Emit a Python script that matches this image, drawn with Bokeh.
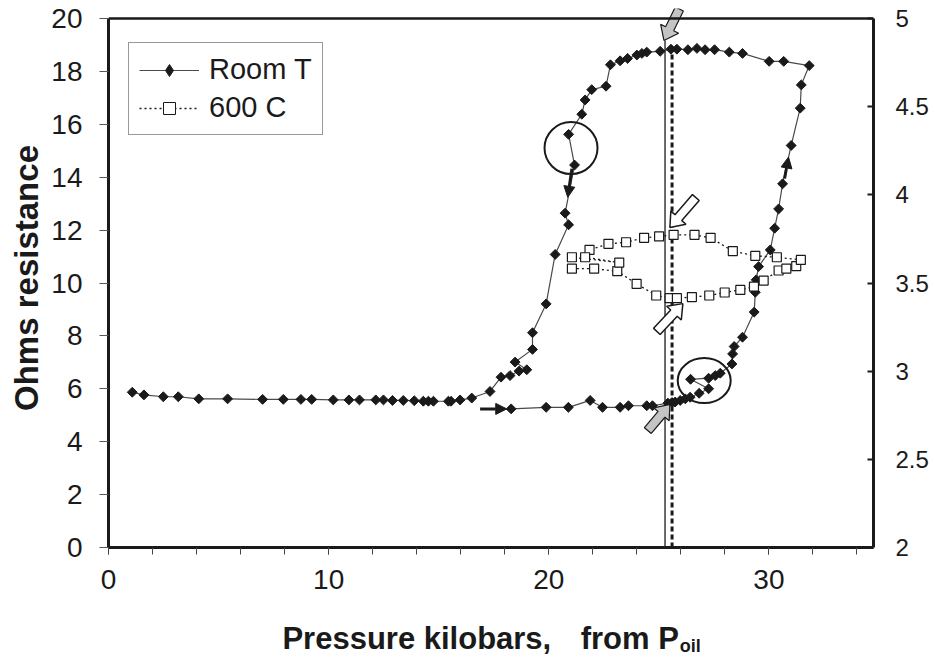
import numpy as np
from bokeh.plotting import figure
from bokeh.layouts import column
from bokeh.models import (Range1d, LinearAxis, FixedTicker, Legend, LegendItem, Span,
                          Arrow, NormalHead, ColumnDataSource)
from bokeh.core.properties import value
from bokeh.embed import file_html
from bokeh.resources import INLINE

# ---------------- data ----------------
# Room T (left axis, ohms) in measurement order
RT_P = [18.29, 19.88, 20.89, 21.88, 22.44, 23.24, 23.62, 24.45, 24.71, 25.41, 25.60, 25.74,
        25.97, 26.20, 26.42, 26.83, 27.26, 26.44, 27.26, 27.56, 27.79, 28.32, 28.35, 28.42,
        28.80, 29.33, 29.38, 29.42, 29.53, 30.06, 30.26, 30.44, 30.62, 31.01, 31.42, 31.47,
        31.83, 30.67, 30.01, 28.80, 28.20, 27.53, 27.10, 26.73, 26.32, 25.82, 25.55, 25.06,
        24.45, 24.23, 24.00, 23.58, 23.24, 22.80, 22.60, 21.95, 21.65, 21.50, 20.90, 21.17,
        20.74, 20.90, 20.29, 19.88, 19.26, 19.26, 18.47, 19.00, 18.65, 18.24, 17.83, 17.33,
        16.50, 15.97, 15.56, 15.44, 14.76, 14.53, 14.30, 13.89, 13.39, 12.90, 12.49, 12.14,
        11.40, 10.92, 10.21, 9.23, 8.74, 7.94, 7.00, 5.41, 4.10, 3.17, 2.49, 1.61, 1.08]
RT_R = [5.24, 5.30, 5.30, 5.56, 5.30, 5.30, 5.36, 5.36, 5.36, 5.46, 5.48, 5.50,
        5.56, 5.62, 5.68, 5.83, 6.00, 6.36, 6.40, 6.50, 6.59, 6.94, 7.32, 7.60,
        7.95, 8.90, 9.65, 10.12, 10.62, 11.25, 12.07, 12.80, 13.75, 15.20, 16.61, 17.49,
        18.22, 18.38, 18.38, 18.68, 18.73, 18.82, 18.82, 18.87, 18.82, 18.84, 18.84, 18.76,
        18.73, 18.68, 18.62, 18.49, 18.40, 18.25, 17.44, 17.31, 16.92, 16.38, 15.62, 14.46,
        12.64, 12.20, 11.08, 9.21, 8.12, 7.49, 7.01, 6.72, 6.67, 6.50, 6.44, 5.90,
        5.65, 5.58, 5.53, 5.53, 5.53, 5.53, 5.53, 5.55, 5.56, 5.56, 5.58, 5.58,
        5.58, 5.58, 5.58, 5.60, 5.60, 5.60, 5.60, 5.62, 5.62, 5.70, 5.70, 5.77, 5.87]

# 600 C (right axis)
HT_P = [21.05, 22.06, 23.11, 23.99, 24.88, 25.49, 25.82, 26.50, 27.29, 27.99, 28.70, 29.32,
        29.76, 30.44, 30.79, 31.24, 31.45, 30.36, 29.38, 28.36, 27.35, 26.62, 25.67, 25.01,
        24.33, 23.51, 22.71, 21.85, 21.65, 23.20, 21.05]
HT_R = [3.581, 3.581, 3.567, 3.495, 3.429, 3.414, 3.414, 3.420, 3.429, 3.446, 3.461, 3.480,
        3.514, 3.571, 3.581, 3.596, 3.631, 3.646, 3.654, 3.681, 3.756, 3.773, 3.773, 3.764,
        3.756, 3.731, 3.722, 3.688, 3.646, 3.616, 3.646]

X_MAJOR = [0, 10, 20, 30]
X_MINOR = list(range(0, 35, 2))
L_TICKS = list(range(0, 21, 2))
R_TICKS = [2, 2.5, 3, 3.5, 4, 4.5, 5]
R_LABELS = ["2", "2.5", "3", "3.5", "4", "4.5", "5"]

X_TITLE = ["Pressure kilobars,", "from P", "oil"]

# ---------------- layout ----------------
FW, FH = 765, 539
X_MAX = 34.75
Y_MAX = 20 * FH / 529.0
XPX = FW / X_MAX
YPX = FH / Y_MAX
BL, BR, BT, BB = 108, 55, 8, 58
FONT = "Liberation Sans"
INK = "#1a1a1a"
NAN = float("nan")

p = figure(frame_width=FW, frame_height=FH, x_range=Range1d(0, X_MAX), y_range=Range1d(0, Y_MAX),
           output_backend="svg", toolbar_location=None,
           min_border_left=BL, min_border_right=BR, min_border_top=BT, min_border_bottom=BB)
p.outline_line_color = None
p.xgrid.visible = False
p.ygrid.visible = False
p.background_fill_color = "white"
p.border_fill_color = "white"

xa = p.xaxis[0]
xa.ticker = FixedTicker(ticks=X_MAJOR, minor_ticks=X_MINOR)
xa.major_tick_out = 7
xa.major_tick_in = 0
xa.minor_tick_out = 7
xa.minor_tick_in = 0
xa.axis_line_width = 3
xa.axis_line_color = INK
xa.major_tick_line_color = "#444444"
xa.minor_tick_line_color = "#444444"
xa.major_label_text_font = FONT
xa.major_label_text_font_size = "28px"
xa.major_label_text_color = INK
xa.major_label_standoff = 15

ya = p.yaxis[0]
ya.ticker = FixedTicker(ticks=L_TICKS)
ya.bounds = (0, 20)
ya.major_tick_out = 9
ya.major_tick_in = 0
ya.minor_tick_out = 0
ya.minor_tick_in = 0
ya.axis_line_width = 3
ya.axis_line_color = INK
ya.major_tick_line_color = "#555555"
ya.major_label_text_font = FONT
ya.major_label_text_font_size = "28px"
ya.major_label_text_color = INK
ya.major_label_standoff = 17
ya.axis_label = "Ohms resistance"
ya.axis_label_text_font = FONT
ya.axis_label_text_font_style = "bold"
ya.axis_label_text_font_size = "33px"
ya.axis_label_text_color = INK
ya.axis_label_standoff = 3

p.extra_y_ranges = {"r": Range1d(2, 2 + 3 * Y_MAX / 20)}
ra = LinearAxis(y_range_name="r", ticker=FixedTicker(ticks=R_TICKS), bounds=(2, 5))
ra.major_label_overrides = {t: s for t, s in zip(R_TICKS, R_LABELS)}
ra.major_tick_out = 0
ra.major_tick_in = 6
ra.minor_tick_out = 0
ra.minor_tick_in = 0
ra.axis_line_width = 3
ra.axis_line_color = INK
ra.major_tick_line_color = INK
ra.major_tick_line_width = 2
ra.major_label_text_font = FONT
ra.major_label_text_font_size = "24px"
ra.major_label_text_color = INK
ra.major_label_standoff = 22
p.add_layout(ra, "right")

p.add_layout(Span(location=20, dimension="width", line_color=INK, line_width=2.5))

# vertical reference lines
p.segment(x0=[25.28], y0=[0], x1=[25.28], y1=[19.17], line_color=INK, line_width=1.3)
p.segment(x0=[25.60], y0=[0], x1=[25.60], y1=[19.05], line_color=INK, line_width=3, line_dash="5 3")

# series
src_rt = ColumnDataSource(dict(x=RT_P, y=RT_R))
src_ht = ColumnDataSource(dict(x=HT_P, y=HT_R))
l1 = p.line("x", "y", source=src_rt, line_color="#4a4a4a", line_width=1.2)
p.scatter("x", "y", source=src_rt, marker="square", angle=np.pi / 4, size=7,
          fill_color=INK, line_color=INK)
l2 = p.line("x", "y", source=src_ht, y_range_name="r", line_color=INK, line_width=1.3, line_dash="2 3")
p.scatter("x", "y", source=src_ht, y_range_name="r", marker="square", size=9,
          fill_color="white", line_color=INK, line_width=1.2)

# legend proxies (a single NaN point: nothing drawn in the plot, only the legend glyph)
lg1 = p.scatter(x=[NAN], y=[NAN], marker="diamond", size=13, fill_color=INK, line_color=INK)
lg2 = p.scatter(x=[NAN], y=[NAN], marker="square", size=7, fill_color="white", line_color=INK,
                line_width=1)

# circles
p.ellipse(x=[21.01, 27.06], y=[15.10, 6.31], width=[53, 53], height=[52, 45],
          width_units="screen", height_units="screen",
          fill_color=None, line_color=INK, line_width=2)

# block arrows (tail -> tip in data units)
def block_arrow(tail, tip, shaft=9.0, head=20.0, hlen=13.0):
    tx, ty = tail[0] * XPX, -tail[1] * YPX
    hx, hy = tip[0] * XPX, -tip[1] * YPX
    d = np.hypot(hx - tx, hy - ty)
    ux, uy = (hx - tx) / d, (hy - ty) / d
    nx, ny = -uy, ux
    bx, by = hx - ux * hlen, hy - uy * hlen
    pts = [(tx + nx * shaft / 2, ty + ny * shaft / 2),
           (bx + nx * shaft / 2, by + ny * shaft / 2),
           (bx + nx * head / 2, by + ny * head / 2),
           (hx, hy),
           (bx - nx * head / 2, by - ny * head / 2),
           (bx - nx * shaft / 2, by - ny * shaft / 2),
           (tx - nx * shaft / 2, ty - ny * shaft / 2)]
    return [q[0] / XPX for q in pts], [-q[1] / YPX for q in pts]

gray_arrows = [((25.93, 20.36), (25.23, 19.17)), ((24.50, 4.42), (25.50, 5.41))]
white_arrows = [((26.68, 13.23), (25.50, 12.10)), ((24.91, 8.17), (26.09, 9.22))]
gx, gy = zip(*[block_arrow(a, b) for a, b in gray_arrows])
wx, wy = zip(*[block_arrow(a, b) for a, b in white_arrows])
p.patches(list(gx), list(gy), fill_color="#c4c4c4", line_color=INK, line_width=1.2)
p.patches(list(wx), list(wy), fill_color="white", line_color=INK, line_width=1.5)

# small black direction arrows
for (x0, y0), (x1, y1) in [((16.88, 5.24), (18.09, 5.24)),
                           ((21.05, 14.32), (20.86, 13.24)),
                           ((30.71, 13.95), (30.89, 14.76))]:
    p.add_layout(Arrow(end=NormalHead(size=11, fill_color=INK, line_color=INK),
                       x_start=x0, y_start=y0, x_end=x1, y_end=y1,
                       line_color=INK, line_width=3))

# legend
legend = Legend(items=[LegendItem(label="Room T", renderers=[l1, lg1]),
                       LegendItem(label="600 C", renderers=[l2, lg2])],
                location=(20, 412), orientation="vertical",
                label_text_font=FONT, label_text_font_size="29px", label_text_color=INK,
                glyph_width=60, glyph_height=30, label_height=30, label_standoff=10,
                padding=10, spacing=5, margin=0,
                border_line_color="#333333", border_line_width=1,
                background_fill_color="white", background_fill_alpha=1.0)
p.add_layout(legend)

# x axis title strip (same horizontal scale as the chart; y counts pixels downward)
TH = 52
p2 = figure(frame_width=FW, frame_height=TH, x_range=p.x_range, y_range=Range1d(TH, 0),
            output_backend="svg", toolbar_location=None,
            x_axis_location=None, y_axis_location=None,
            min_border_left=BL, min_border_right=BR, min_border_top=0, min_border_bottom=0)
p2.outline_line_color = None
p2.xgrid.visible = False
p2.ygrid.visible = False
p2.text(x=[7.90, 21.45], y=[33, 33], text=X_TITLE[:2], text_font=value(FONT),
        text_font_style="bold", text_font_size="31px", text_color=INK,
        text_baseline="alphabetic", text_align="left")
p2.text(x=[25.95], y=[40], text=X_TITLE[2:], text_font=value(FONT),
        text_font_style="bold", text_font_size="18px", text_color=INK,
        text_baseline="alphabetic", text_align="left")

open("out.html", "w").write(file_html(column(p, p2, spacing=0), INLINE))
